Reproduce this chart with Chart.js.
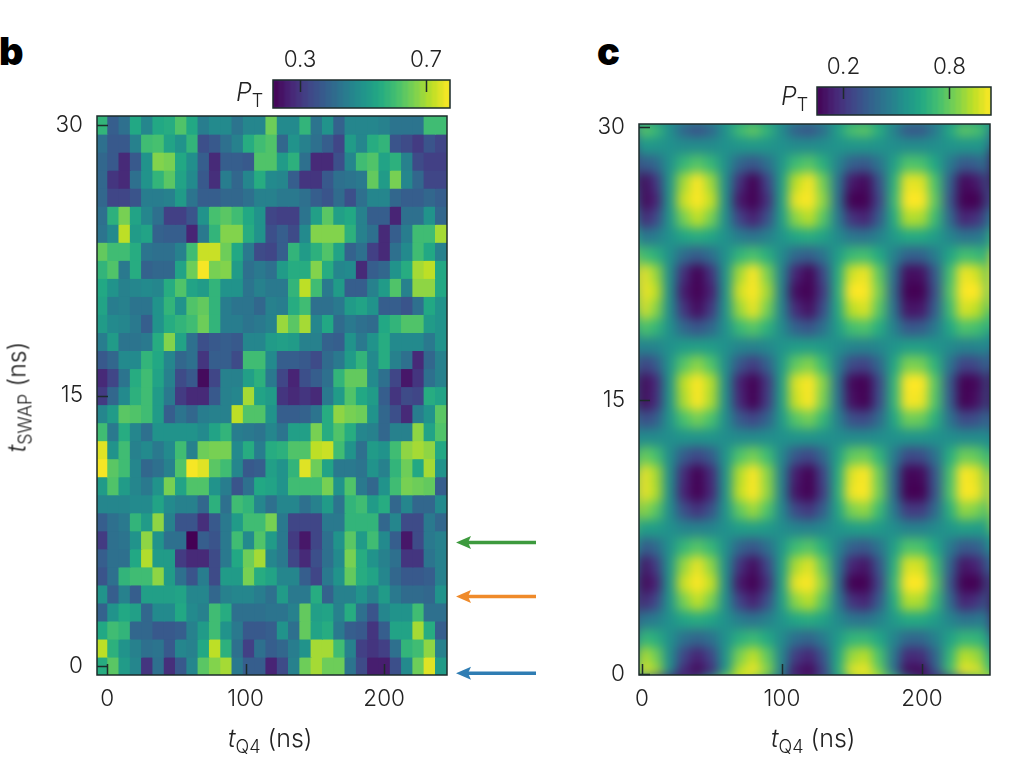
<!DOCTYPE html>
<html>
<head>
<meta charset="utf-8">
<script src="https://cdn.jsdelivr.net/npm/chart.js@4"></script>
<style>
html, body { margin: 0; background: #fff; }
body { width: 1024px; height: 772px; position: relative; overflow: hidden; font-family: Inter, sans-serif; color: #222; }
canvas { position: absolute; }
.txt { position: absolute; white-space: nowrap; font-size: 25px; font-weight: 300; line-height: 1; }
.txt sub { font-size: 18px; line-height: 0; vertical-align: -6px; }
.letter { position: absolute; font-weight: 900; font-size: 38px; line-height: 1; color: #000; }
</style>
</head>
<body>
<div class="letter" style="left:-1px;top:32px">b</div>
<div class="letter" style="left:597px;top:32px">c</div>
<canvas id="heatB"></canvas>
<canvas id="heatC"></canvas>
<canvas id="barB"></canvas>
<canvas id="barC"></canvas>
<div class="txt" style="left:236px;top:80px"><i>P</i><sub>T</sub></div>
<div class="txt" style="left:781px;top:84px"><i>P</i><sub>T</sub></div>
<div class="txt" style="left:228px;top:726px"><i>t</i><sub>Q4</sub> (ns)</div>
<div class="txt" style="left:771px;top:726px"><i>t</i><sub>Q4</sub> (ns)</div>
<div class="txt" style="left:17px;top:397px;transform:translate(-50%,-50%) rotate(-90deg)"><i>t</i><sub>SWAP</sub> (ns)</div>
<script>
// tick labels
const xTicks = [0, 100, 200];
const yTicks = [0, 15, 30];
const cbTicksB = [0.3, 0.7];
const cbTicksC = [0.2, 0.8];

// arrows next to panel b (t_SWAP, ns)
const arrowTimes = [6.85, 3.85, -0.4];
const arrowColors = ['#3d9a3e', '#ef8a2a', '#2f7db3'];

// row axis, top to bottom
const tSwap = [30, 29, 28, 27, 26, 25, 24, 23, 22, 21, 20, 19, 18, 17, 16, 15, 14, 13, 12, 11, 10, 9, 8, 7, 6, 5, 4, 3, 2, 1, 0];

// panel b columns
const tQ4B = [-3.6, 4.6, 12.7, 20.9, 29, 37.2, 45.4, 53.5, 61.7, 69.8, 78, 86.2, 94.3, 102.5, 110.6, 118.8, 127, 135.1, 143.3, 151.4, 159.6, 167.8, 175.9, 184.1, 192.2, 200.4, 208.6, 216.7, 224.9, 233, 241.2];

// panel b, measured P_T
const ptB = [
[.58,.38,.42,.55,.47,.55,.56,.62,.55,.45,.48,.48,.43,.47,.47,.65,.48,.48,.58,.43,.5,.39,.47,.47,.47,.46,.43,.43,.43,.6,.6],
[.42,.37,.37,.46,.6,.61,.54,.5,.58,.35,.37,.42,.46,.56,.6,.62,.4,.5,.46,.42,.38,.33,.52,.47,.56,.58,.36,.34,.31,.36,.33],
[.4,.37,.28,.37,.5,.67,.66,.55,.49,.38,.28,.38,.38,.37,.62,.62,.52,.57,.42,.28,.28,.35,.47,.6,.62,.54,.57,.46,.34,.32,.32],
[.4,.3,.28,.42,.5,.58,.63,.54,.48,.37,.29,.45,.4,.47,.56,.48,.47,.38,.3,.3,.37,.42,.43,.44,.64,.52,.66,.47,.4,.33,.33],
[.4,.33,.33,.36,.45,.45,.46,.52,.43,.38,.38,.4,.4,.42,.46,.46,.44,.44,.42,.38,.36,.41,.35,.42,.47,.47,.4,.38,.38,.4,.38],
[.42,.57,.66,.54,.47,.42,.32,.32,.36,.5,.61,.63,.6,.55,.5,.33,.32,.32,.43,.53,.63,.53,.55,.46,.38,.38,.27,.42,.42,.5,.4],
[.43,.48,.72,.52,.54,.39,.38,.38,.27,.44,.58,.67,.67,.56,.5,.35,.38,.34,.48,.67,.67,.67,.57,.46,.42,.28,.38,.45,.6,.6,.7],
[.64,.6,.6,.56,.43,.42,.42,.46,.6,.73,.73,.65,.55,.44,.34,.33,.38,.58,.52,.57,.62,.54,.39,.42,.32,.28,.42,.48,.6,.55,.46],
[.58,.62,.44,.56,.39,.4,.4,.54,.65,.77,.66,.67,.52,.42,.44,.42,.52,.56,.56,.67,.56,.47,.48,.28,.38,.4,.5,.56,.7,.72,.55],
[.55,.5,.46,.47,.48,.47,.56,.62,.54,.52,.58,.5,.5,.43,.46,.44,.44,.58,.72,.6,.44,.52,.38,.38,.46,.52,.62,.46,.68,.68,.55],
[.54,.45,.46,.43,.43,.5,.58,.5,.62,.64,.58,.45,.43,.43,.4,.46,.45,.56,.6,.42,.42,.44,.52,.54,.5,.38,.38,.36,.42,.55,.5],
[.52,.48,.47,.44,.38,.5,.56,.58,.6,.65,.58,.45,.45,.43,.44,.46,.69,.63,.7,.47,.55,.41,.44,.42,.41,.55,.58,.62,.62,.52,.5],
[.45,.52,.43,.43,.44,.56,.67,.54,.42,.35,.37,.38,.37,.47,.47,.52,.53,.52,.46,.46,.39,.38,.5,.44,.5,.56,.48,.48,.48,.44,.5],
[.37,.4,.48,.48,.58,.55,.47,.4,.42,.3,.38,.38,.34,.6,.6,.48,.38,.38,.37,.34,.41,.44,.52,.58,.48,.56,.46,.42,.28,.4,.46],
[.28,.33,.43,.56,.6,.54,.46,.34,.37,.23,.33,.46,.46,.53,.57,.44,.33,.27,.35,.38,.42,.58,.64,.64,.48,.42,.33,.25,.3,.42,.46],
[.31,.4,.48,.57,.6,.52,.44,.31,.28,.28,.37,.46,.47,.7,.54,.52,.3,.28,.3,.28,.44,.52,.62,.55,.52,.38,.3,.34,.33,.56,.54],
[.47,.52,.63,.62,.6,.52,.38,.43,.4,.45,.46,.46,.72,.62,.62,.5,.38,.38,.39,.43,.56,.68,.66,.65,.5,.4,.35,.28,.45,.5,.63],
[.6,.44,.56,.47,.42,.5,.5,.5,.5,.48,.54,.58,.45,.44,.43,.47,.43,.53,.53,.66,.56,.62,.56,.47,.46,.4,.46,.46,.68,.54,.62],
[.75,.5,.6,.46,.48,.44,.48,.6,.46,.65,.66,.66,.48,.56,.45,.56,.57,.62,.62,.72,.73,.6,.5,.42,.52,.5,.6,.68,.7,.68,.55],
[.77,.63,.6,.47,.4,.42,.46,.62,.77,.75,.63,.6,.47,.37,.38,.53,.5,.58,.75,.65,.54,.44,.44,.43,.5,.46,.58,.65,.55,.7,.5],
[.52,.62,.52,.47,.44,.5,.66,.54,.62,.62,.5,.45,.36,.42,.55,.54,.5,.6,.6,.6,.66,.5,.62,.44,.4,.5,.6,.66,.65,.64,.38],
[.47,.47,.47,.48,.48,.54,.48,.46,.46,.4,.57,.42,.6,.58,.47,.42,.47,.47,.42,.46,.52,.43,.58,.6,.52,.56,.4,.47,.4,.4,.48],
[.38,.42,.44,.58,.52,.68,.46,.36,.36,.29,.37,.44,.52,.6,.6,.66,.44,.33,.33,.33,.44,.44,.58,.58,.58,.4,.47,.34,.34,.44,.4],
[.31,.42,.43,.5,.68,.5,.42,.42,.21,.38,.36,.44,.6,.48,.62,.52,.44,.31,.25,.33,.42,.5,.63,.52,.6,.48,.38,.25,.34,.44,.46],
[.38,.42,.42,.55,.71,.52,.52,.31,.28,.28,.34,.44,.55,.65,.7,.47,.44,.33,.28,.35,.42,.48,.66,.56,.5,.46,.42,.3,.3,.43,.46],
[.36,.42,.58,.6,.6,.68,.52,.42,.36,.45,.34,.52,.52,.66,.56,.54,.47,.47,.38,.33,.44,.5,.64,.56,.54,.47,.4,.37,.37,.38,.46],
[.5,.38,.46,.38,.53,.53,.53,.54,.47,.47,.4,.46,.47,.47,.45,.42,.52,.44,.44,.56,.39,.46,.46,.5,.46,.52,.44,.41,.41,.4,.5],
[.39,.5,.55,.53,.4,.48,.48,.55,.48,.46,.6,.56,.42,.42,.42,.43,.43,.46,.64,.53,.54,.46,.56,.42,.36,.47,.5,.5,.6,.42,.42],
[.55,.6,.58,.4,.4,.37,.37,.38,.46,.52,.6,.5,.44,.37,.37,.38,.5,.42,.64,.54,.56,.44,.38,.37,.3,.38,.54,.54,.7,.56,.38],
[.72,.57,.5,.46,.42,.43,.37,.47,.46,.55,.72,.57,.42,.32,.42,.38,.4,.45,.5,.7,.7,.6,.46,.32,.3,.32,.42,.58,.6,.68,.46],
[.56,.63,.52,.47,.3,.42,.29,.37,.47,.63,.67,.7,.44,.38,.38,.27,.34,.46,.65,.7,.65,.65,.43,.34,.26,.26,.35,.48,.65,.75,.52]
];

// panel c columns
const tQ4C = [0, 10, 20, 30, 40, 50, 60, 70, 80, 90, 100, 110, 120, 130, 140, 150, 160, 170, 180, 190, 200, 210, 220, 230, 240, 250];

// panel c, simulated P_T
const ptC = [
[.77,.70,.54,.38,.31,.38,.54,.71,.77,.68,.52,.36,.32,.41,.59,.73,.76,.65,.48,.33,.33,.45,.63,.76,.73,.61],
[.57,.56,.54,.52,.52,.52,.54,.56,.57,.56,.54,.52,.52,.53,.55,.56,.56,.55,.53,.52,.52,.53,.55,.56,.56,.55],
[.34,.40,.54,.68,.74,.68,.54,.39,.34,.42,.56,.70,.74,.65,.50,.37,.35,.44,.59,.73,.72,.62,.46,.35,.37,.48],
[.11,.24,.55,.85,.97,.84,.53,.23,.11,.28,.58,.88,.96,.78,.45,.17,.13,.33,.65,.94,.93,.72,.38,.13,.17,.41],
[.04,.19,.55,.90,1.04,.89,.53,.17,.04,.23,.59,.94,1.03,.82,.44,.11,.06,.29,.67,1.01,1.00,.75,.35,.06,.11,.39],
[.19,.29,.55,.79,.89,.79,.53,.28,.19,.32,.58,.82,.88,.74,.47,.24,.20,.36,.63,.87,.86,.69,.41,.20,.24,.43],
[.44,.47,.54,.61,.64,.61,.54,.47,.44,.48,.55,.62,.64,.60,.52,.45,.44,.49,.57,.63,.63,.58,.50,.44,.45,.51],
[.72,.66,.54,.41,.36,.42,.54,.67,.72,.65,.52,.40,.37,.44,.58,.69,.71,.63,.49,.38,.38,.47,.61,.71,.69,.59],
[.97,.84,.53,.23,.11,.24,.55,.85,.97,.80,.50,.20,.12,.30,.63,.91,.95,.75,.43,.14,.15,.36,.70,.95,.91,.67],
[1.04,.89,.53,.18,.04,.19,.55,.91,1.04,.85,.49,.14,.05,.26,.64,.97,1.02,.79,.41,.07,.08,.33,.73,1.02,.97,.69],
[.94,.82,.53,.25,.14,.26,.55,.84,.94,.79,.50,.22,.15,.32,.62,.88,.92,.74,.44,.16,.17,.37,.69,.92,.88,.66],
[.74,.68,.54,.40,.34,.40,.54,.69,.74,.66,.52,.38,.34,.43,.58,.71,.73,.64,.49,.35,.36,.46,.62,.73,.71,.60],
[.49,.50,.54,.58,.59,.58,.54,.50,.49,.51,.55,.58,.59,.57,.53,.50,.49,.51,.55,.59,.59,.56,.52,.49,.50,.52],
[.26,.35,.55,.74,.82,.73,.53,.34,.26,.37,.57,.76,.81,.69,.48,.30,.28,.40,.61,.80,.79,.66,.44,.28,.30,.46],
[.06,.21,.55,.88,1.02,.87,.53,.19,.06,.25,.59,.92,1.01,.81,.44,.13,.08,.30,.66,.99,.98,.74,.36,.08,.13,.40],
[.09,.22,.55,.86,.99,.86,.53,.21,.09,.26,.59,.90,.98,.79,.45,.15,.11,.31,.66,.96,.95,.73,.37,.11,.15,.40],
[.29,.36,.55,.72,.79,.72,.53,.35,.29,.38,.57,.74,.79,.68,.49,.32,.30,.41,.61,.78,.77,.65,.44,.30,.32,.46],
[.52,.52,.53,.55,.55,.55,.53,.52,.52,.53,.54,.55,.55,.54,.53,.52,.52,.53,.54,.55,.55,.54,.53,.52,.52,.53],
[.79,.72,.53,.36,.29,.36,.55,.73,.79,.70,.51,.34,.29,.40,.59,.76,.78,.67,.47,.30,.31,.43,.64,.78,.76,.62],
[.99,.86,.53,.22,.09,.22,.55,.87,.99,.82,.49,.18,.10,.29,.63,.93,.97,.77,.42,.12,.13,.35,.71,.97,.93,.68],
[1.02,.87,.53,.20,.06,.21,.55,.89,1.02,.83,.49,.16,.07,.27,.64,.95,1.00,.78,.42,.09,.10,.34,.72,1.00,.95,.68],
[.84,.75,.53,.32,.24,.33,.55,.76,.84,.73,.51,.30,.25,.37,.60,.80,.83,.69,.46,.26,.26,.41,.65,.83,.80,.63],
[.59,.58,.54,.50,.49,.50,.54,.58,.59,.57,.53,.50,.49,.51,.55,.58,.59,.57,.53,.49,.49,.52,.56,.59,.58,.56],
[.34,.40,.54,.68,.74,.68,.54,.39,.34,.42,.56,.70,.74,.65,.50,.37,.35,.44,.59,.73,.72,.62,.46,.35,.37,.48],
[.14,.26,.55,.83,.94,.82,.53,.24,.14,.29,.58,.86,.93,.76,.46,.20,.16,.34,.64,.92,.91,.71,.39,.16,.20,.42],
[.04,.19,.55,.90,1.04,.89,.53,.17,.04,.23,.59,.94,1.03,.82,.44,.11,.06,.29,.67,1.01,1.00,.75,.35,.06,.11,.39],
[.19,.29,.55,.79,.89,.79,.53,.28,.19,.32,.58,.82,.88,.74,.47,.24,.20,.36,.63,.87,.86,.69,.41,.20,.24,.43],
[.44,.47,.54,.61,.64,.61,.54,.47,.44,.48,.55,.62,.64,.60,.52,.45,.44,.49,.57,.63,.63,.58,.50,.44,.45,.51],
[.69,.65,.54,.43,.39,.43,.54,.65,.69,.63,.52,.42,.39,.46,.57,.67,.68,.62,.50,.40,.40,.48,.60,.68,.67,.59],
[.89,.79,.53,.29,.19,.29,.55,.80,.89,.76,.50,.26,.20,.34,.61,.84,.88,.72,.45,.21,.22,.39,.67,.88,.84,.65],
[1.02,.87,.53,.20,.06,.21,.55,.89,1.02,.83,.49,.16,.07,.27,.64,.95,1.00,.78,.42,.09,.10,.34,.72,1.00,.95,.68]
];

// colour bar levels
const levelsB = [.223,.242,.261,.279,.298,.317,.336,.354,.373,.392,.41,.429,.448,.467,.485,.504,.523,.541,.56,.579,.598,.616,.635,.654,.672,.691,.71,.729,.747,.766];
const levelsC = [.066,.099,.132,.165,.197,.23,.263,.296,.329,.361,.394,.427,.46,.493,.525,.558,.591,.624,.657,.689,.722,.755,.788,.821,.853,.886,.919,.952,.985,1.018];

const rangeB = [0.214, 0.776];
const rangeC = [0.05, 1.035];
// panel c cells get softened, a slightly tighter range keeps the peaks saturated
const cellRangeC = [0.11, 0.97];

const viridisStops = [[68,1,84],[72,36,117],[65,68,135],[53,95,141],[42,120,142],[33,145,140],[34,168,132],[68,191,112],[122,209,81],[189,223,38],[253,231,37]];

function viridis(v) {
    var t = Math.min(1, Math.max(0, v)) * (viridisStops.length - 1);
    var i = Math.min(viridisStops.length - 2, Math.floor(t));
    var a = viridisStops[i], b = viridisStops[i + 1], f = t - i;
    return 'rgb(' + [0, 1, 2].map(function (k) { return Math.round(a[k] + (b[k] - a[k]) * f); }).join(',') + ')';
}

function colorOf(v, range) {
    return viridis((v - range[0]) / (range[1] - range[0]));
}

var tickFont = { family: 'Inter', size: 22.5, weight: '300' };
var ink = '#1d2b2b';

function placeCanvas(id, left, top, w, h) {
    var c = document.getElementById(id);
    c.width = w;
    c.height = h;
    c.style.left = left + 'px';
    c.style.top = top + 'px';
    c.style.width = w + 'px';
    c.style.height = h + 'px';
    return c;
}

// inward ticks and the box round the plot
function framePlugin(tickLen, yAxisToo) {
    return {
        id: 'frame',
        afterDraw: function (chart) {
            var ctx = chart.ctx, a = chart.chartArea;
            ctx.save();
            ctx.strokeStyle = ink;
            ctx.lineWidth = 1.5;
            ctx.strokeRect(a.left, a.top, a.right - a.left, a.bottom - a.top);
            ctx.beginPath();
            var sx = chart.scales.x;
            sx.ticks.forEach(function (t) {
                var px = Math.round(sx.getPixelForValue(t.value)) + 0.5;
                var edge = sx.position === 'top' ? a.top : a.bottom;
                var dir = sx.position === 'top' ? 1 : -1;
                ctx.moveTo(px, edge);
                ctx.lineTo(px, edge + dir * tickLen);
            });
            if (yAxisToo) {
                var sy = chart.scales.y;
                sy.ticks.forEach(function (t) {
                    var py = Math.round(sy.getPixelForValue(t.value)) + 0.5;
                    ctx.moveTo(a.left, py);
                    ctx.lineTo(a.left + tickLen, py);
                });
            }
            ctx.stroke();
            ctx.restore();
        }
    };
}

// softens the cells: panel c is a fine simulation grid, panel b a soft scan
function blurPlugin(radius) {
    return {
        id: 'soften',
        afterDatasetsDraw: function (chart) {
            var ctx = chart.ctx, a = chart.chartArea, m = 30;
            var w = Math.round(a.right - a.left), h = Math.round(a.bottom - a.top);
            var tmp = document.createElement('canvas');
            tmp.width = w + 2 * m;
            tmp.height = h + 2 * m;
            var tc = tmp.getContext('2d');
            tc.drawImage(chart.canvas, a.left, a.top, w, h, 0, 0, tmp.width, tmp.height);
            tc.drawImage(chart.canvas, a.left, a.top, w, h, m, m, w, h);
            ctx.save();
            ctx.beginPath();
            ctx.rect(a.left, a.top, w, h);
            ctx.clip();
            ctx.filter = 'blur(' + radius + 'px)';
            ctx.drawImage(tmp, a.left - m, a.top - m);
            ctx.restore();
        }
    };
}

var arrowPlugin = {
    id: 'arrows',
    afterDraw: function (chart) {
        var ctx = chart.ctx, a = chart.chartArea, sy = chart.scales.y;
        arrowTimes.forEach(function (t, i) {
            var y = sy.getPixelForValue(t), x0 = a.right + 9, x1 = a.right + 89;
            ctx.save();
            ctx.strokeStyle = ctx.fillStyle = arrowColors[i];
            ctx.lineWidth = 3.5;
            ctx.beginPath();
            ctx.moveTo(x0 + 8, y);
            ctx.lineTo(x1, y);
            ctx.stroke();
            ctx.beginPath();
            ctx.moveTo(x0, y);
            ctx.lineTo(x0 + 15, y - 6.5);
            ctx.lineTo(x0 + 12, y);
            ctx.lineTo(x0 + 15, y + 6.5);
            ctx.closePath();
            ctx.fill();
            ctx.restore();
        });
    }
};

function heatChart(id, xs, rows, range, xr, yr, pad, extra) {
    return new Chart(document.getElementById(id), {
        type: 'bar',
        data: {
            datasets: rows.map(function (row, r) {
                return {
                    data: row.map(function (v, c) {
                        return { x: xs[c], y: [tSwap[r] - 0.5, tSwap[r] + 0.5] };
                    }),
                    backgroundColor: row.map(function (v) { return colorOf(v, range); }),
                    borderWidth: 0,
                    inflateAmount: 0.6,
                    grouped: false,
                    barPercentage: 1,
                    categoryPercentage: 1
                };
            })
        },
        options: {
            responsive: false,
            animation: false,
            layout: { padding: pad, autoPadding: false },
            plugins: { legend: { display: false }, tooltip: { enabled: false } },
            scales: {
                x: {
                    type: 'linear',
                    offset: false,
                    min: xr[0],
                    max: xr[1],
                    afterBuildTicks: function (s) { s.ticks = xTicks.map(function (v) { return { value: v }; }); },
                    afterFit: function (s) { s.height = 65; s.paddingLeft = 0; s.paddingRight = 0; },
                    grid: { display: false, drawTicks: false },
                    border: { display: false },
                    ticks: { font: tickFont, color: '#222', padding: 11, maxRotation: 0 }
                },
                y: {
                    type: 'linear',
                    min: yr[0],
                    max: yr[1],
                    afterBuildTicks: function (s) { s.ticks = yTicks.map(function (v) { return { value: v }; }); },
                    afterFit: function (s) { s.width = pad.axis; s.paddingTop = 0; s.paddingBottom = 0; },
                    grid: { display: false, drawTicks: false },
                    border: { display: false },
                    ticks: { font: tickFont, color: '#222', padding: 14 }
                }
            }
        },
        plugins: extra
    });
}

function colorBar(id, levels, range, ticks) {
    return new Chart(document.getElementById(id), {
        type: 'bar',
        data: {
            datasets: [{
                data: levels.map(function (v) { return { x: v, y: [0, 1] }; }),
                backgroundColor: levels.map(function (v) { return colorOf(v, range); }),
                borderWidth: 0,
                inflateAmount: 0.6,
                barPercentage: 1,
                categoryPercentage: 1
            }]
        },
        options: {
            responsive: false,
            animation: false,
            layout: { padding: { left: 20, right: 20, bottom: 2 }, autoPadding: false },
            plugins: { legend: { display: false }, tooltip: { enabled: false } },
            scales: {
                x: {
                    type: 'linear',
                    position: 'top',
                    offset: false,
                    min: range[0],
                    max: range[1],
                    afterBuildTicks: function (s) { s.ticks = ticks.map(function (v) { return { value: v }; }); },
                    afterFit: function (s) { s.height = 50; s.paddingLeft = 0; s.paddingRight = 0; },
                    grid: { display: false, drawTicks: false },
                    border: { display: false },
                    ticks: {
                        font: tickFont,
                        color: '#222',
                        padding: 6,
                        callback: function (v) { return v.toFixed(1); }
                    }
                },
                y: { display: false, min: 0, max: 1 }
            }
        },
        plugins: [blurPlugin(1.2), framePlugin(12, false)]
    });
}

document.addEventListener('DOMContentLoaded', function () {
    placeCanvas('heatB', 0, 100, 545, 640);
    placeCanvas('heatC', 540, 108, 484, 632);
    placeCanvas('barB', 253, 30, 217, 80);
    placeCanvas('barC', 797, 37, 214, 80);

    heatChart('heatB', tQ4B, ptB, rangeB, [-7.3, 245.4], [-0.5, 30.5],
        { left: 0, right: 98, top: 16, bottom: 0, axis: 97 },
        [blurPlugin(0.6), framePlugin(11, true), arrowPlugin]);

    heatChart('heatC', tQ4C, ptC, cellRangeC, [-2.1, 248.6], [-0.05, 30.15],
        { left: 0, right: 34, top: 16, bottom: 0, axis: 99 },
        [blurPlugin(5.5), framePlugin(11, true)]);

    colorBar('barB', levelsB, rangeB, cbTicksB);
    colorBar('barC', levelsC, rangeC, cbTicksC);
});
</script>
</body>
</html>
